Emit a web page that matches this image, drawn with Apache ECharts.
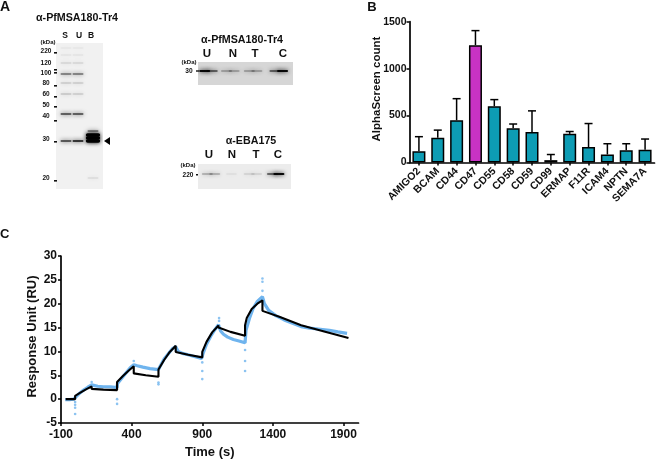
<!DOCTYPE html>
<html><head><meta charset="utf-8">
<style>html,body{margin:0;padding:0;background:#fff}#c{width:656px;height:461px}</style>
<script src="https://cdn.jsdelivr.net/npm/echarts@6/dist/echarts.min.js"></script>
</head><body><div id="c"></div>
<script>
// Panel B
const receptors = ['AMIGO2','BCAM','CD44','CD47','CD55','CD58','CD59','CD99','ERMAP','F11R','ICAM4','NPTN','SEMA7A'];
const alphaMean = [120,265,450,1250,600,365,325,25,305,165,85,130,135];
const alphaUpper = [275,345,680,1405,670,410,550,85,330,415,200,200,250];
// Panel C
const traceTime = [-70,-40,-10,0,30,60,90,117,130,160,200,250,297,300,330,360,390,415,440,480,530,590,600,630,660,690,712,730,760,800,850,895,905,930,960,990,1015,1030,1050,1080,1120,1160,1203,1210,1235,1260,1290,1326,1340,1370,1420,1480,1540,1600,1660,1720,1800,1860,1925];
const traceRU = [-0.1,-0.1,0,0.2,1.2,1.9,2.5,3.0,2.8,2.7,2.6,2.6,2.4,3.3,4.4,5.5,6.6,7.2,7.0,6.7,6.4,6.2,6.8,8.4,9.5,10.6,11.0,10.0,9.6,9.3,8.9,8.5,9.5,11.5,13.2,14.6,15.6,14.3,13.6,13.0,12.5,12.2,11.8,14.5,17,19,20.5,21.5,20,18.6,17.5,16.6,15.9,15.2,14.9,14.7,14.4,14.1,13.8];
const spikeTime = [0,0,0,0,117,297,297,415,590,590,900,900,900,1019,1019,1203,1203,1203,1326,1326,1326];
const spikeRU = [-0.6,-1.2,-1.8,-3.1,3.6,0,-1,8,3.5,3.1,7.7,5.9,4.2,17,16.4,10.3,8,5.9,25.3,24.6,22.7];
const fitTime = [-67,0,0,40,80,117,117,200,297,297,340,380,415,415,500,590,590,630,670,712,712,800,900,900,930,970,1015,1015,1100,1203,1203,1215,1250,1290,1326,1326,1450,1600,1750,1935];
const fitRU = [0,0,0.7,1.4,2.1,2.66,2.15,2.0,1.9,3.6,4.9,6.0,6.9,5.4,5.0,4.7,6.2,8.2,9.9,11.2,9.9,9.3,8.75,9.9,12,14,15.45,15,14.1,13.3,15.5,17,18.9,20,20.7,18.5,17.2,15.5,14.3,12.8];
const toPairs = (a, b) => a.map((v, i) => [v, b[i]]);
// Blots: [position across the membrane, position down the membrane, darkness]
const blotMain = [[10,5,.04],[22,5,.04],[10,12,.05],[22,12,.05],[10,20,.10],[22,20,.10],[10,31,.5],[22,31,.5],[10,40,.14],[22,40,.14],[10,51,.16],[22,51,.14],[10,71,.7],[22,71,.7],[10,98,.75],[22,98,.95],[37,98,1],[37,95,1],[37,92,1],[37,88,.5],[37,135,.08]];
const blotTop = [[7,9,.95],[15,9,.5],[30,9,.22],[38,9,.22],[54,9,.22],[62,9,.22],[81,9,.5],[89,9,.95]];
const blotBottom = [[10,10,.2],[18,10,.2],[36,10,.04],[55,10,.08],[63,10,.08],[80,10,.5],[87,10,.95]];
const ladderLabels = ['220','120','100','80','60','50','40','30','20'];

const FONT = '"Liberation Sans", Arial, sans-serif';
const bandRender = (bw, bh) => (params, api) => {
  const c = api.coord([api.value(0), api.value(1)]);
  const d = api.value(2);
  const strong = d >= 1;
  const w = strong ? bw * 1.3 : bw, h = strong ? bh * 2.6 : bh;
  return {type:'rect', shape:{x:c[0]-w/2, y:c[1]-h/2, width:w, height:h, r:h/2},
    style:{fill:'rgba(0,0,0,'+d+')', shadowBlur:4, shadowColor:'#000'}};
};
const hiddenAxis = (i, max, inverse) => ({gridIndex:i, type:'value', min:0, max:max, show:false, inverse:!!inverse});
const bold = (t, x, y, size, align) => ({type:'text', x:x, y:y, style:{text:t, font:'bold '+size+'px '+FONT, fill:'#111', align:align||'center', verticalAlign:'middle'}});

const ladderY = [51,63,73,83,94,105,116,139,178];
const graphicEls = [
  bold('A',5,7,14), bold('B',372,7,13), bold('C',4.6,234,13),
  bold('α-PfMSA180-Tr4',77,18,10.7), bold('α-PfMSA180-Tr4',242,40,10.7), bold('α-EBA175',251,141,10.7),
  bold('S',65,36,8.5), bold('U',79,36,8.5), bold('B',91,36,8.5),
  bold('U',207,54,11.5), bold('N',233,54,11.5), bold('T',255,54,11.5), bold('C',283,54,11.5),
  bold('U',209,155,11.5), bold('N',232,155,11.5), bold('T',256,155,11.5), bold('C',278,155,11.5),
  bold('(kDa)',48,42,6), bold('(kDa)',189,62,6), bold('(kDa)',188,165,6),
  bold('30',189,71,6.6), bold('220',188,175,6.5),
  {type:'polygon', shape:{points:[[104,141],[110,137],[110,145]]}, style:{fill:'#000'}}
];
ladderLabels.forEach((t,i)=>graphicEls.push(bold(t,46,ladderY[i],6.5)));
[53,70,73,86,97,107,121,142,181].forEach(y=>graphicEls.push({type:'rect',shape:{x:54,y:y-1,width:3,height:1.6},style:{fill:'#111'}}));
graphicEls.push({type:'rect',shape:{x:196,y:70.3,width:3,height:1.4},style:{fill:'#111'}});
graphicEls.push({type:'rect',shape:{x:196,y:174,width:2,height:1.4},style:{fill:'#111'}});

const axisBold = size => ({fontFamily:FONT, fontWeight:'bold', fontSize:size, color:'#111'});
const axisLine = {show:true, onZero:false, lineStyle:{color:'#000', width:1.7}};
const axisTick = {show:true, length:3, lineStyle:{color:'#000', width:1.5}};
const plain = v => String(v);

const option = {
  animation:false,
  backgroundColor:'#fff',
  graphic:{elements:graphicEls},
  grid:[
    {left:409.5, top:21.7, width:245, height:140.8},
    {left:61, top:256, width:297.5, height:167},
    {left:56, top:43, width:47, height:146, show:true, backgroundColor:'#f1f1f1', borderWidth:0},
    {left:198, top:62, width:95, height:23, show:true, backgroundColor:'#d6d6d6', borderWidth:0},
    {left:198, top:164, width:93, height:25, show:true, backgroundColor:'#ececec', borderWidth:0}
  ],
  xAxis:[
    {gridIndex:0, type:'category', data:receptors, axisLine:axisLine,
      axisTick:{...axisTick, alignWithLabel:true},
      axisLabel:{...axisBold(10.5), rotate:45, interval:0, margin:7}},
    {gridIndex:1, type:'value', min:-100, max:2006, axisLine:axisLine, splitLine:{show:false},
      axisTick:{...axisTick, customValues:[-100,400,900,1400,1900]},
      axisLabel:{...axisBold(12), formatter:plain, customValues:[-100,400,900,1400,1900], margin:6},
      name:'Time (s)', nameLocation:'middle', nameGap:23, nameMoveOverlap:false, nameTextStyle:axisBold(13)},
    hiddenAxis(2,47), hiddenAxis(3,100), hiddenAxis(4,100)
  ],
  yAxis:[
    {gridIndex:0, type:'value', min:0, max:1500, interval:500, axisLine:axisLine, axisTick:axisTick, splitLine:{show:false},
      axisLabel:{...axisBold(10.5), formatter:plain, margin:3},
      name:'AlphaScreen count', nameLocation:'middle', nameGap:27, nameMoveOverlap:false,
      nameTextStyle:{...axisBold(11.5), padding:[0,0,0,6]}},
    {gridIndex:1, type:'value', min:-5, max:30, interval:5, axisLine:axisLine, axisTick:axisTick, splitLine:{show:false},
      axisLabel:{...axisBold(12), formatter:plain, margin:4},
      name:'Response Unit (RU)', nameLocation:'middle', nameGap:22, nameMoveOverlap:false,
      nameTextStyle:{...axisBold(13), padding:[0,0,0,6]}},
    hiddenAxis(2,146,true), hiddenAxis(3,23,true), hiddenAxis(4,25,true)
  ],
  series:[
    {type:'custom', xAxisIndex:0, yAxisIndex:0, z:1,
      data:receptors.map((r,i)=>[i,alphaMean[i],alphaUpper[i]]),
      encode:{x:0,y:[1,2]},
      renderItem:(p,api)=>{
        const a=api.coord([api.value(0),api.value(1)]), b=api.coord([api.value(0),api.value(2)]);
        const st={stroke:'#000',lineWidth:1.5,fill:null};
        return {type:'group',children:[
          {type:'line',shape:{x1:a[0],y1:a[1],x2:b[0],y2:b[1]},style:st},
          {type:'line',shape:{x1:b[0]-4,y1:b[1],x2:b[0]+4,y2:b[1]},style:st}
        ]};
      }},
    {type:'bar', xAxisIndex:0, yAxisIndex:0, z:2, barWidth:13,
      data:alphaMean.map((v,i)=>({value:v, itemStyle:{color:receptors[i]==='CD47'?'#c832c4':'#0d9cb4'}})),
      itemStyle:{borderColor:'#000', borderWidth:1.5}},
    {type:'line', xAxisIndex:1, yAxisIndex:1, z:2, data:toPairs(traceTime,traceRU), showSymbol:false,
      lineStyle:{color:'#6fb4ee', width:3.2}},
    {type:'scatter', xAxisIndex:1, yAxisIndex:1, z:2, data:toPairs(spikeTime,spikeRU), symbolSize:2.6,
      itemStyle:{color:'#6fb4ee'}},
    {type:'line', xAxisIndex:1, yAxisIndex:1, z:3, data:toPairs(fitTime,fitRU), showSymbol:false,
      lineStyle:{color:'#000', width:2.1}},
    {type:'custom', xAxisIndex:2, yAxisIndex:2, data:blotMain, renderItem:bandRender(11,1.4), clip:true},
    {type:'custom', xAxisIndex:3, yAxisIndex:3, data:blotTop, renderItem:bandRender(11,2), clip:true},
    {type:'custom', xAxisIndex:4, yAxisIndex:4, data:blotBottom, renderItem:bandRender(11,2.2), clip:true}
  ]
};
echarts.init(document.getElementById('c'),null,{renderer:'canvas'}).setOption(option);
</script></body></html>
